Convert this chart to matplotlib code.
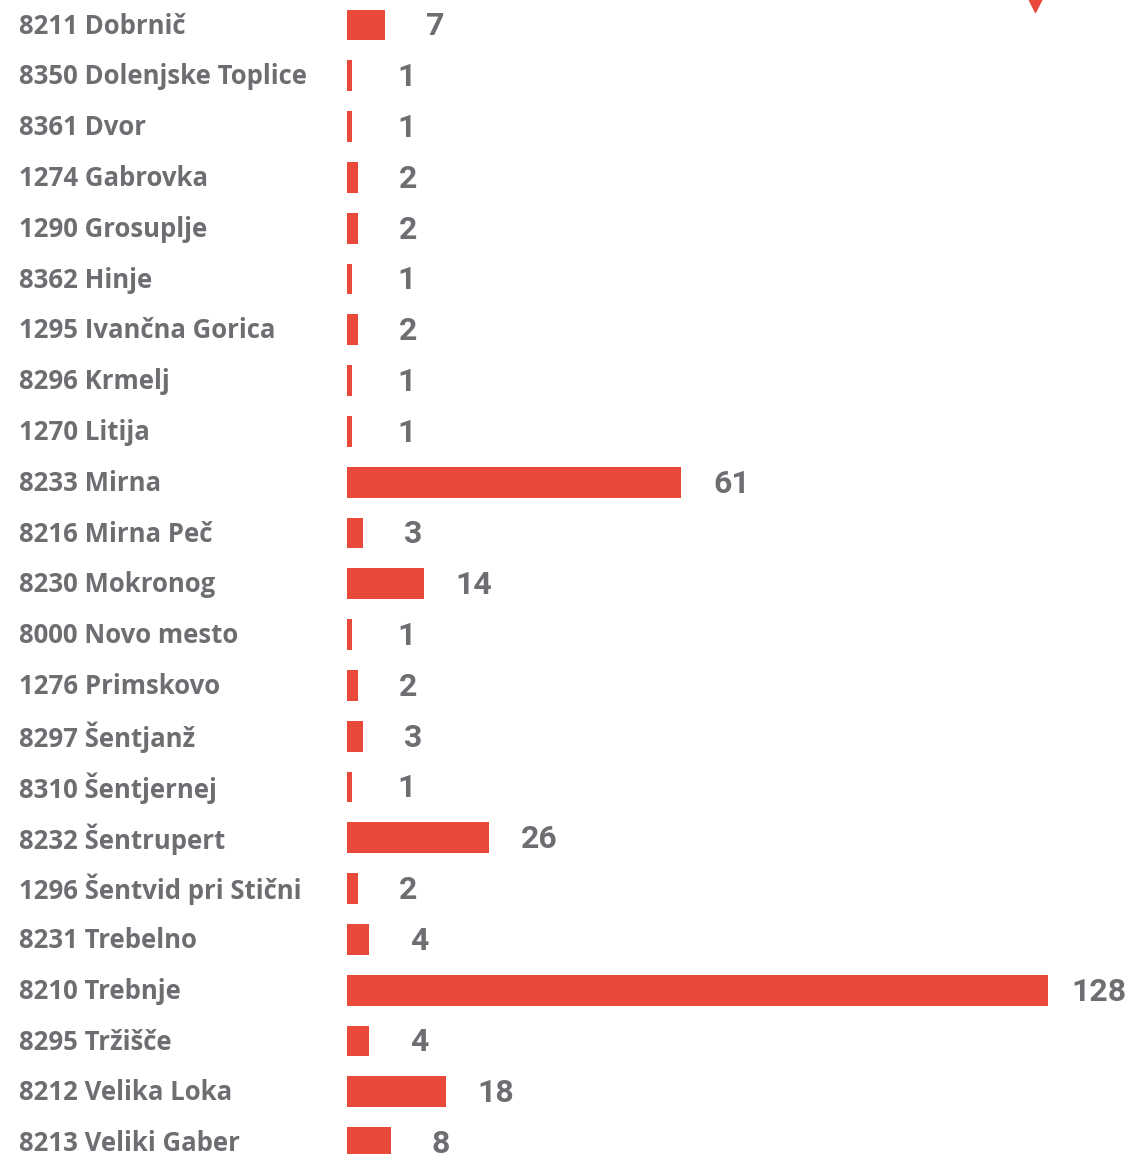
import matplotlib
matplotlib.use("Agg")
import matplotlib.pyplot as plt
import matplotlib.transforms as mtransforms

places = [
    "8211 Dobrnič", "8350 Dolenjske Toplice", "8361 Dvor", "1274 Gabrovka",
    "1290 Grosuplje", "8362 Hinje", "1295 Ivančna Gorica", "8296 Krmelj",
    "1270 Litija", "8233 Mirna", "8216 Mirna Peč", "8230 Mokronog",
    "8000 Novo mesto", "1276 Primskovo", "8297 Šentjanž", "8310 Šentjernej",
    "8232 Šentrupert", "1296 Šentvid pri Stični", "8231 Trebelno",
    "8210 Trebnje", "8295 Tržišče", "8212 Velika Loka", "8213 Veliki Gaber",
]
counts = [7, 1, 1, 2, 2, 1, 2, 1, 1, 61, 3, 14, 1, 2, 3, 1, 26, 2, 4, 128, 4, 18, 8]

bar_color = "#e8493b"
text_color = "#6d6e72"

W, H = 1131, 1154
fig = plt.figure(figsize=(W / 100, H / 100), dpi=100)
ax = fig.add_axes([347 / W, 0, 1 - 347 / W, 1])

y = list(range(len(places)))
ax.barh(y, counts, height=0.61, color=bar_color)
ax.set_xlim(0, (W - 347) / 5.48)
ax.set_ylim((H - 25) / 50.8, -25 / 50.8)
ax.axis("off")

# value labels, centred a fixed distance past the bar end
for yi, v in zip(y, counts):
    ax.annotate(str(v), (max(v, 1.8), yi), xytext=(36, -1), textcoords="offset points",
                ha="center", va="center", fontsize=23, fontweight="bold",
                color=text_color, family="Roboto")

# category labels on the left
trans = mtransforms.blended_transform_factory(fig.transFigure, ax.transData)
for yi, name in zip(y, places):
    ax.text(19 / W, yi + 0.02, name, transform=trans, ha="left", va="center",
            fontsize=18.5, fontweight="bold", color=text_color, family="Open Sans")

# small marker at the top edge
ax.plot([125.5], [-0.42], marker="v", markersize=11, color=bar_color, clip_on=False)

fig.savefig("out.png", dpi=100)
